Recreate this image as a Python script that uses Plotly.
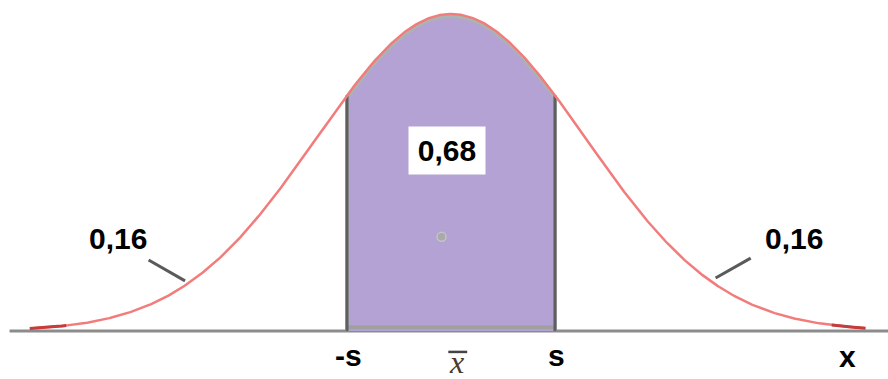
import numpy as np
import plotly.graph_objects as go

# Normal curve, horizontal unit = one standard deviation of the curve shape
MEAN = 0.0
S_POS = 0.77                   # where the "-s" / "s" marks sit
CURVE_LO, CURVE_HI = -3.12, 3.07
TAIL_LO, TAIL_HI = -2.85, 2.82  # darker ends of the curve
AXIS_LO, AXIS_HI = -3.27, 3.30

AREA_LABELS = ["0,16", "0,68", "0,16"]
AXIS_LABELS = ["-s", "s", "x"]

def density(z):
    return np.exp(-0.5 * (z - MEAN) ** 2)

z = np.linspace(CURVE_LO, CURVE_HI, 600)
y = density(z)

zc = np.linspace(-S_POS, S_POS, 200)
yc = density(zc)

fig = go.Figure()

# baseline
fig.add_trace(go.Scatter(x=[AXIS_LO, AXIS_HI], y=[0, 0], mode="lines",
                         line=dict(color="#8c8c8c", width=3), hoverinfo="skip"))

# central shaded area (mean ± s)
px_ = np.concatenate([[-S_POS], zc, [S_POS]])
py_ = np.concatenate([[0], yc - 0.006, [0]])
fig.add_trace(go.Scatter(x=px_, y=py_, mode="lines", fill="toself",
                         fillcolor="#b3a2d3",
                         line=dict(color="#aab4b0", width=4), hoverinfo="skip"))
# bottom edge of the shaded area
fig.add_trace(go.Scatter(x=[-S_POS, S_POS], y=[0.012, 0.012], mode="lines",
                         line=dict(color="#a0a0a0", width=4), hoverinfo="skip"))

# vertical boundaries at ±s
for sx in (-S_POS, S_POS):
    fig.add_trace(go.Scatter(x=[sx, sx], y=[0, density(sx)], mode="lines",
                             line=dict(color="#5f5f5f", width=3), hoverinfo="skip"))

# the bell curve
fig.add_trace(go.Scatter(x=z, y=y, mode="lines",
                         line=dict(color="#f27c7c", width=2.5), hoverinfo="skip"))
# darker tails
for a, b in ((CURVE_LO, TAIL_LO), (TAIL_HI, CURVE_HI)):
    zt = np.linspace(a, b, 30)
    fig.add_trace(go.Scatter(x=zt, y=density(zt), mode="lines",
                             line=dict(color="#c43c3c", width=3), hoverinfo="skip"))

# small mark at the centre of the area
fig.add_trace(go.Scatter(x=[-0.07], y=[0.297], mode="markers",
                         marker=dict(size=9, color="#a9a9a9",
                                     line=dict(color="#c4c4c4", width=1.5)),
                         hoverinfo="skip"))

FONT = dict(family="Liberation Sans, Arial, sans-serif", size=30, color="black")

annotations = [
    dict(x=-2.47, y=0.293, text="<b>%s</b>" % AREA_LABELS[0]),
    dict(x=-0.03, y=0.568, text="<b>%s</b>" % AREA_LABELS[1],
         bgcolor="white", borderpad=7, width=62),
    dict(x=2.54, y=0.293, text="<b>%s</b>" % AREA_LABELS[2]),
    dict(x=-S_POS + 0.01, y=-0.078, text="<b>%s</b>" % AXIS_LABELS[0]),
    dict(x=0.785, y=-0.078, text="<b>%s</b>" % AXIS_LABELS[1]),
    dict(x=2.94, y=-0.082, text="<b>%s</b>" % AXIS_LABELS[2]),
    dict(x=0.037, y=-0.098, text="<i>x</i>",
         font=dict(family="Liberation Serif, Times New Roman, serif", size=32,
                   color="#4a3a2a")),
]
for a in annotations:
    a.setdefault("font", FONT)
    a.update(xref="x", yref="y", showarrow=False)

# leader lines from the tail labels to the curve
shapes = [
    dict(type="line", x0=-2.24, y0=0.224, x1=-1.97, y1=0.158,
         line=dict(color="#5a5a5a", width=3)),
    dict(type="line", x0=2.22, y0=0.230, x1=1.96, y1=0.167,
         line=dict(color="#5a5a5a", width=3)),
    # bar over the mean symbol
    dict(type="line", x0=-0.02, y0=-0.066, x1=0.12, y1=-0.066,
         line=dict(color="#444444", width=2.5)),
]
for s in shapes:
    s.update(xref="x", yref="y")

fig.update_layout(
    width=888, height=379,
    margin=dict(l=0, r=0, t=0, b=0),
    paper_bgcolor="white", plot_bgcolor="white",
    showlegend=False,
    annotations=annotations,
    shapes=shapes,
    xaxis=dict(range=[-451 / 135, 437 / 135], visible=False, fixedrange=True),
    yaxis=dict(range=[-48 / 317, 331 / 317], visible=False, fixedrange=True),
)

fig.write_html("out.html")
